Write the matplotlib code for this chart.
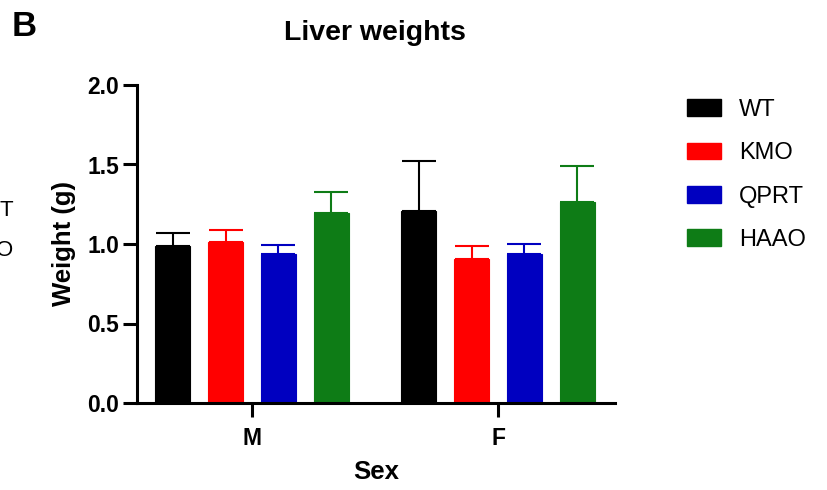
import numpy as np
import matplotlib.pyplot as plt
from matplotlib.patches import Patch

plt.rcParams['font.family'] = ['Liberation Sans', 'DejaVu Sans']

groups = ['M', 'F']
genotypes = ['WT', 'KMO', 'QPRT', 'HAAO']
colors = ['#000000', '#FF0000', '#0000C0', '#0E7C16']

# mean and upper error (SD) per genotype, order M, F
means = {
    'WT':   [0.99, 1.21],
    'KMO':  [1.01, 0.905],
    'QPRT': [0.935, 0.94],
    'HAAO': [1.195, 1.265],
}
errs = {
    'WT':   [0.08, 0.315],
    'KMO':  [0.08, 0.08],
    'QPRT': [0.06, 0.06],
    'HAAO': [0.135, 0.225],
}

W, H = 827, 490
fig = plt.figure(figsize=(W / 100, H / 100), dpi=100)
ax = fig.add_axes([137 / W, 1 - 403 / H, (615 - 137) / W, (403 - 85) / H])

x = np.arange(len(groups))
step = 0.2154
width = 0.142
for i, (g, c) in enumerate(zip(genotypes, colors)):
    pos = x + (i - 1.5) * step
    ax.bar(pos, means[g], width, color=c, edgecolor=c, linewidth=0.8, zorder=2)
    ax.errorbar(pos, means[g], yerr=[np.zeros(len(groups)), errs[g]], fmt='none',
                ecolor=c, elinewidth=1.5, capsize=12.5, capthick=1.5, zorder=1)

ax.set_xlim(-0.4675, 1.4756)
ax.set_ylim(0, 2.0)
ax.set_yticks([0, 0.5, 1.0, 1.5, 2.0])
ax.set_yticklabels(['0.0', '0.5', '1.0', '1.5', '2.0'])
ax.set_xticks(x)
ax.set_xticklabels(groups)
for lab in ax.get_xticklabels() + ax.get_yticklabels():
    lab.set_fontweight('bold')
    lab.set_fontsize(16.5)
ax.tick_params(axis='both', width=2.2, length=10, direction='out')
ax.tick_params(axis='y', pad=3)
ax.tick_params(axis='x', pad=7)
for s in ['top', 'right']:
    ax.spines[s].set_visible(False)
for s in ['left', 'bottom']:
    ax.spines[s].set_linewidth(2.2)

ax.set_ylabel('Weight (g)', fontsize=18.5, fontweight='bold')
ax.yaxis.set_label_coords((76 - 137) / 478, 0.5)
ax.set_xlabel('Sex', fontsize=18.5, fontweight='bold')
ax.xaxis.set_label_coords(0.5, (403 - 460) / 318)
fig.text(375 / W, 1 - 33 / H, 'Liver weights', fontsize=20.5, fontweight='bold',
         ha='center', va='center')

handles = [Patch(facecolor=c, edgecolor=c) for c in colors]
fig.legend(handles, genotypes, loc='upper left', bbox_to_anchor=(687 / W, 1 - 99 / H),
           frameon=False, fontsize=17, handlelength=1.44, handleheight=0.72,
           labelspacing=0.9, handletextpad=0.76, borderpad=0, borderaxespad=0)

fig.text(12 / W, 1 - 26 / H, 'B', fontsize=25, fontweight='bold', va='center')
# cut-off labels from the neighbouring panel
fig.text(13 / W, 1 - 210 / H, 'T', fontsize=16, ha='right', va='center')
fig.text(13 / W, 1 - 250 / H, 'O', fontsize=16, ha='right', va='center')

fig.savefig('out.png', dpi=100)
